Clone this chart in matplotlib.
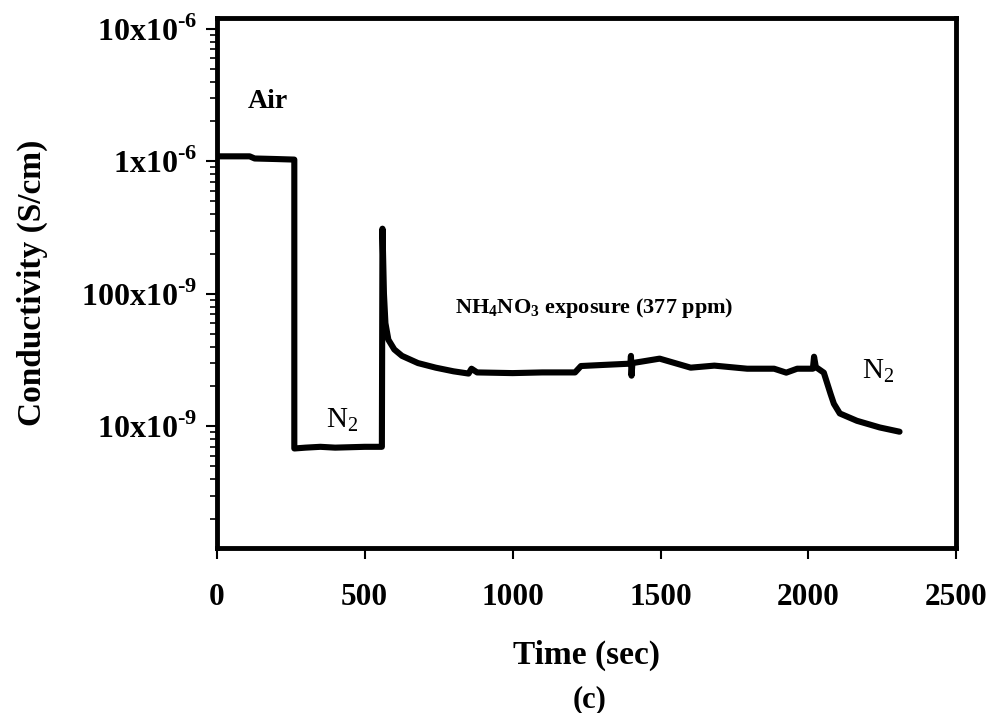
import matplotlib
matplotlib.use('Agg')
import matplotlib.pyplot as plt
from matplotlib.ticker import FixedLocator, LogLocator, NullFormatter

plt.rcParams['font.family'] = ['Liberation Serif', 'DejaVu Serif']
plt.rcParams['mathtext.fontset'] = 'custom'
plt.rcParams['mathtext.rm'] = 'Liberation Serif'
plt.rcParams['mathtext.bf'] = 'Liberation Serif:bold'

# time (sec) and conductivity (S/cm)
time_s = [3, 111, 128, 200, 262, 262, 300, 350, 400, 450, 500, 558,
          560, 565, 570, 580, 600, 626, 680, 740, 800, 851, 861, 880,
          1000, 1100, 1211, 1231, 1300, 1398, 1400, 1402, 1405, 1433,
          1497, 1602, 1682, 1793, 1884, 1925, 1962, 2015, 2019, 2025,
          2052, 2075, 2086, 2106, 2164, 2241, 2308]
cond = [1.09e-6, 1.09e-6, 1.05e-6, 1.04e-6, 1.03e-6, 6.8e-9, 6.9e-9, 7.0e-9,
        6.9e-9, 6.95e-9, 7.0e-9, 7.0e-9,
        3.1e-7, 1.0e-7, 6.0e-8, 4.5e-8, 3.8e-8, 3.4e-8, 3.0e-8, 2.77e-8,
        2.6e-8, 2.5e-8, 2.72e-8, 2.55e-8,
        2.52e-8, 2.55e-8, 2.55e-8, 2.85e-8, 2.9e-8, 2.97e-8, 3.4e-8, 2.41e-8,
        3.0e-8, 3.07e-8,
        3.24e-8, 2.77e-8, 2.87e-8, 2.72e-8, 2.72e-8, 2.54e-8, 2.72e-8, 2.72e-8,
        3.35e-8, 2.8e-8,
        2.54e-8, 1.75e-8, 1.48e-8, 1.25e-8, 1.1e-8, 9.8e-9, 9.1e-9]

x_ticks = [0, 500, 1000, 1500, 2000, 2500]
y_ticks = [1e-8, 1e-7, 1e-6, 1e-5]
y_tick_labels = ['10x10$^{\\mathbf{\u20109}}$', '100x10$^{\\mathbf{\u20109}}$',
                 '1x10$^{\\mathbf{\u20106}}$', '10x10$^{\\mathbf{\u20106}}$']

fig = plt.figure(figsize=(9.9, 7.13), dpi=100)
ax = fig.add_axes([0.219, 0.231, 0.747, 0.744])

ax.plot(time_s, cond, color='black', lw=4.4, solid_joinstyle='round', solid_capstyle='round')

ax.set_yscale('log')
ax.set_xlim(0, 2500)
ax.set_ylim(1.2e-9, 1.21e-5)

ax.xaxis.set_major_locator(FixedLocator(x_ticks))
ax.set_xticklabels([str(t) for t in x_ticks], fontsize=22.5, fontweight='bold')
ax.yaxis.set_major_locator(FixedLocator(y_ticks))
ax.set_yticklabels(y_tick_labels, fontsize=23, fontweight='bold')
ax.yaxis.set_minor_locator(LogLocator(base=10, subs=range(2, 10)))
ax.yaxis.set_minor_formatter(NullFormatter())

ax.tick_params(axis='x', direction='out', length=8, width=1.5, pad=17)
ax.tick_params(axis='y', which='major', direction='out', length=8, width=1.5, pad=6)
ax.tick_params(axis='y', which='minor', direction='out', length=5, width=1.2)

for s in ax.spines.values():
    s.set_linewidth(3.5)

ax.set_xlabel('Time (sec)', fontsize=24, fontweight='bold', labelpad=20)
ax.set_ylabel('Conductivity (S/cm)', fontsize=24, fontweight='bold', labelpad=24)

ax.text(104, 2.83e-6, 'Air', fontsize=20, fontweight='bold', va='center')
ax.text(370, 9.8e-9, 'N$_2$', fontsize=21, va='baseline')
ax.text(804, 7.2e-8, 'NH$_\\mathbf{4}$NO$_\\mathbf{3}$ exposure (377 ppm)',
        fontsize=16, fontweight='bold', va='baseline')
ax.text(2180, 2.29e-8, 'N$_2$', fontsize=21, va='baseline')

fig.text(0.596, 0.018, '(c)', fontsize=22, fontweight='bold', ha='center', va='center')

fig.savefig('out.png', dpi=100)
